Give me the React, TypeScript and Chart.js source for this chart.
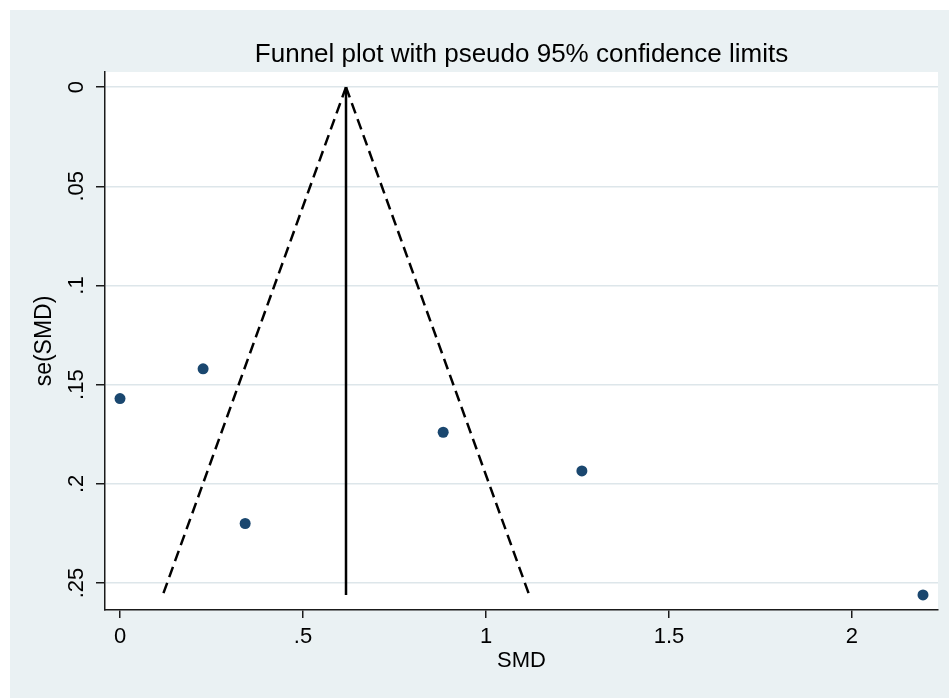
import React, { useEffect, useRef } from "react";
import { Chart, registerables } from "chart.js";

Chart.register(...registerables);

const FONT = "'Liberation Sans', Arial, Helvetica, sans-serif";

// Study estimates
const smd = [0.0, 0.227, 0.342, 0.883, 1.262, 2.194];
const seSmd = [0.157, 0.142, 0.22, 0.174, 0.1935, 0.256];

// Pooled estimate and pseudo 95% limits
const pooledSmd = 0.6175;
const seMax = 0.256;
const lowerLimitAtMax = 0.117;
const upperLimitAtMax = 1.118;

// Axes
const xMin = -0.041;
const xMax = 2.235;
const yMin = -0.0076;
const yMax = 0.2636;
const xTicks = [0, 0.5, 1, 1.5, 2];
const xTickLabels = ["0", ".5", "1", "1.5", "2"];
const yTicks = [0, 0.05, 0.1, 0.15, 0.2, 0.25];
const yTickLabels = ["0", ".05", ".1", ".15", ".2", ".25"];

const titleText = "Funnel plot with pseudo 95% confidence limits";
const xTitle = "SMD";
const yTitle = "se(SMD)";

const OUTER_BG = "#eaf1f3";
const GRID = "#dde6ea";
const AXIS = "#1a1a1a";
const MARKER = "#1a476f";

const backgroundPlugin = {
  id: "stataBackground",
  beforeDraw(chart: any) {
    const { ctx, chartArea, width, height } = chart;
    ctx.save();
    ctx.fillStyle = "#ffffff";
    ctx.fillRect(0, 0, width, height);
    ctx.fillStyle = OUTER_BG;
    ctx.fillRect(10, 10, width - 10, height - 10);
    ctx.fillStyle = "#ffffff";
    ctx.fillRect(chartArea.left, chartArea.top, chartArea.right - chartArea.left, chartArea.bottom - chartArea.top);
    ctx.restore();
  },
};

const textPlugin = {
  id: "stataText",
  afterDraw(chart: any) {
    const { ctx, chartArea } = chart;
    const yScale = chart.scales.y;
    ctx.save();
    ctx.fillStyle = "#000";
    // Title centered over plot region
    ctx.font = `26px ${FONT}`;
    ctx.textAlign = "center";
    ctx.textBaseline = "alphabetic";
    ctx.fillText(titleText, (chartArea.left + chartArea.right) / 2, chartArea.top - 10);
    // Rotated y tick labels
    ctx.font = `22px ${FONT}`;
    yScale.ticks.forEach((t: any, i: number) => {
      const py = yScale.getPixelForValue(t.value);
      ctx.save();
      ctx.translate(chartArea.left - 22, py);
      ctx.rotate(-Math.PI / 2);
      ctx.textAlign = "center";
      ctx.textBaseline = "alphabetic";
      ctx.fillText(yTickLabels[i] ?? String(t.value), 0, 0);
      ctx.restore();
    });
    ctx.restore();
  },
};

export default function App() {
  const canvasRef = useRef<HTMLCanvasElement | null>(null);

  useEffect(() => {
    const canvas = canvasRef.current;
    if (!canvas) return;

    const points = smd.map((x, i) => ({ x, y: seSmd[i] }));

    const chart = new Chart(canvas, {
      type: "scatter",
      data: {
        datasets: [
          {
            label: "Studies",
            data: points,
            pointRadius: 5.5,
            pointHoverRadius: 5.5,
            pointBackgroundColor: MARKER,
            pointBorderColor: MARKER,
            pointBorderWidth: 0,
            showLine: false,
            order: 0,
          },
          {
            label: "Pooled",
            data: [
              { x: pooledSmd, y: 0 },
              { x: pooledSmd, y: seMax },
            ],
            showLine: true,
            borderColor: "#000",
            borderWidth: 2.5,
            pointRadius: 0,
            order: 1,
          },
          {
            label: "Lower limit",
            data: [
              { x: pooledSmd, y: 0 },
              { x: lowerLimitAtMax, y: seMax },
            ],
            showLine: true,
            borderColor: "#000",
            borderWidth: 2.5,
            borderDash: [11, 6],
            pointRadius: 0,
            order: 2,
          },
          {
            label: "Upper limit",
            data: [
              { x: pooledSmd, y: 0 },
              { x: upperLimitAtMax, y: seMax },
            ],
            showLine: true,
            borderColor: "#000",
            borderWidth: 2.5,
            borderDash: [11, 6],
            pointRadius: 0,
            order: 2,
          },
        ],
      },
      options: {
        responsive: false,
        animation: false,
        devicePixelRatio: 1,
        layout: { padding: { top: 72, right: 11, left: 0, bottom: 0 } },
        plugins: {
          legend: { display: false },
          tooltip: { enabled: false },
          title: { display: false },
        },
        scales: {
          x: {
            type: "linear",
            position: "bottom",
            min: xMin,
            max: xMax,
            afterBuildTicks: (scale: any) => {
              scale.ticks = xTicks.map((v) => ({ value: v }));
            },
            afterFit: (scale: any) => {
              scale.height = 88;
            },
            ticks: {
              color: "#000",
              font: { family: FONT, size: 22 },
              padding: 6,
              maxRotation: 0,
              minRotation: 0,
              callback: (value: any) => {
                const idx = xTicks.indexOf(Number(value));
                return idx >= 0 ? xTickLabels[idx] : String(value);
              },
            },
            grid: {
              display: true,
              drawOnChartArea: false,
              drawTicks: true,
              tickLength: 8,
              color: AXIS,
              tickColor: AXIS,
              lineWidth: 1.5,
              tickWidth: 1.5,
            },
            border: { display: true, color: AXIS, width: 1.5 },
            title: {
              display: true,
              text: xTitle,
              color: "#000",
              font: { family: FONT, size: 22 },
              padding: { top: 0, bottom: 24 },
            },
          },
          y: {
            type: "linear",
            position: "left",
            reverse: true,
            min: yMin,
            max: yMax,
            afterBuildTicks: (scale: any) => {
              scale.ticks = yTicks.map((v) => ({ value: v }));
            },
            afterFit: (scale: any) => {
              scale.width = 105;
            },
            ticks: {
              display: false,
            },
            grid: {
              display: true,
              drawOnChartArea: true,
              drawTicks: true,
              tickLength: 9,
              color: GRID,
              tickColor: AXIS,
              lineWidth: 1.5,
              tickWidth: 1.5,
            },
            border: { display: true, color: AXIS, width: 1.5 },
            title: {
              display: true,
              text: yTitle,
              color: "#000",
              font: { family: FONT, size: 23 },
              padding: { top: 31, bottom: 0 },
            },
          },
        },
      },
      plugins: [backgroundPlugin, textPlugin],
    });

    return () => {
      chart.destroy();
    };
  }, []);

  return (
    <div style={{ position: "absolute", left: 0, top: 0, width: 949, height: 698 }}>
      <canvas ref={canvasRef} width={949} height={698} style={{ display: "block", width: 949, height: 698 }} />
    </div>
  );
}
